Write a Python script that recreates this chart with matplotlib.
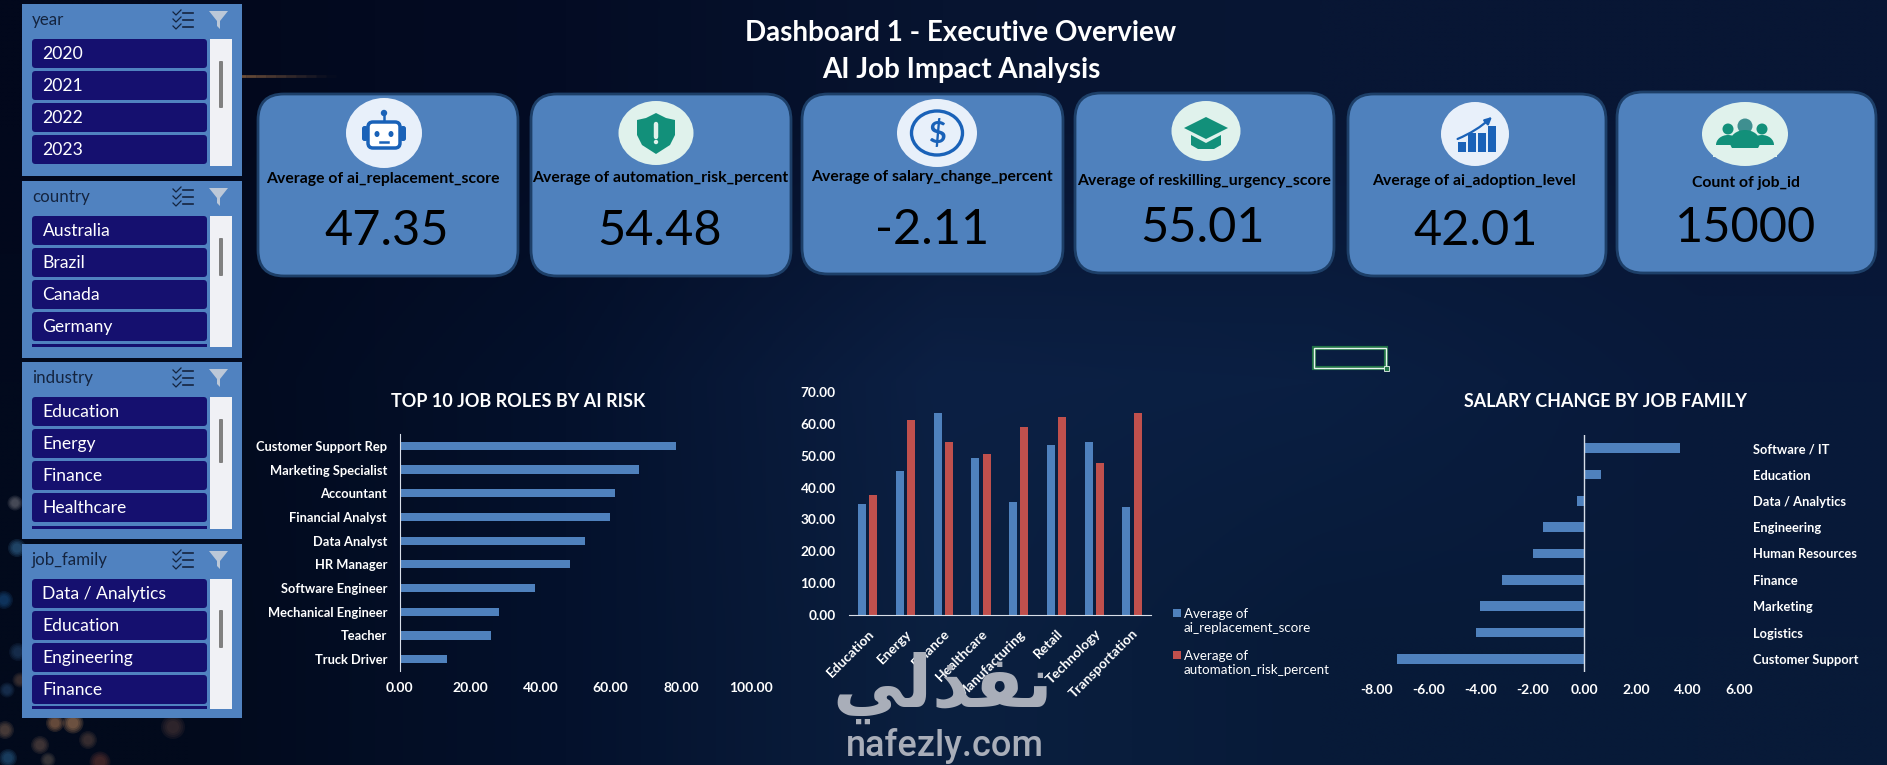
import numpy as np
import matplotlib
matplotlib.use('Agg')
import matplotlib.pyplot as plt
from matplotlib.colors import to_rgb
from matplotlib.patches import FancyBboxPatch, Rectangle, Ellipse, Circle, Polygon

plt.rcParams['font.family'] = ['Lato', 'DejaVu Sans']

W, H = 1887, 765

# slicers
slicer_names = ['year', 'country', 'industry', 'job_family']
slicer_items = [
    ['2020', '2021', '2022', '2023'],
    ['Australia', 'Brazil', 'Canada', 'Germany'],
    ['Education', 'Energy', 'Finance', 'Healthcare'],
    ['Data / Analytics', 'Education', 'Engineering', 'Finance'],
]

# kpi cards
kpi_labels = ['Average of ai_replacement_score', 'Average of automation_risk_percent',
              'Average of salary_change_percent', 'Average of reskilling_urgency_score',
              'Average of ai_adoption_level', 'Count of job_id']
kpi_values = ['47.35', '54.48', '-2.11', '55.01', '42.01', '15000']

# top 10 roles
roles = ['Customer Support Rep', 'Marketing Specialist', 'Accountant', 'Financial Analyst',
         'Data Analyst', 'HR Manager', 'Software Engineer', 'Mechanical Engineer',
         'Teacher', 'Truck Driver']
role_risk = [78.6, 68.0, 61.2, 59.8, 52.7, 48.4, 38.5, 28.2, 26.0, 13.5]

# industry chart
industries = ['Education', 'Energy', 'Finance', 'Healthcare', 'Manufacturing',
              'Retail', 'Technology', 'Transportation']
ai_replacement = [34.9, 45.3, 63.5, 49.4, 35.5, 53.5, 54.4, 34.0]
automation_risk = [37.7, 61.3, 54.4, 50.6, 59.1, 62.0, 47.7, 63.5]

# salary chart
families = ['Software / IT', 'Education', 'Data / Analytics', 'Engineering', 'Human Resources',
            'Finance', 'Marketing', 'Logistics', 'Customer Support']
salary_change = [3.71, 0.65, -0.27, -1.60, -1.97, -3.18, -4.03, -4.18, -7.23]

BLUE = '#4f81bd'
RED = '#c0504d'
NAVY = '#15106f'


def px_axes(x0, y0, x1, y1, z=2):
    a = fig.add_axes([x0 / W, 1 - y1 / H, (x1 - x0) / W, (y1 - y0) / H], zorder=z)
    a.patch.set_alpha(0)
    for s in a.spines.values():
        s.set_visible(False)
    return a


def rbox(a, x0, y0, x1, y1, r, fc, ec='none', lw=0, z=2):
    a.add_patch(FancyBboxPatch((x0, y0), x1 - x0, y1 - y0, boxstyle='round,pad=0,rounding_size=%s' % r,
                               fc=fc, ec=ec, lw=lw, zorder=z))


fig = plt.figure(figsize=(W / 100, H / 100), dpi=100)
bg = px_axes(0, 0, W, H, z=0)
bg.set_xlim(0, W)
bg.set_ylim(H, 0)
bg.axis('off')

# background colour grid
grid_hex = [['#02081c', '#040c24', '#071430', '#081634', '#081634'],
            ['#020a1e', '#04112c', '#0c2044', '#0a1f42', '#08193a'],
            ['#020a1c', '#04112c', '#0b2040', '#071a38', '#081a38']]
grid = np.array([[to_rgb(c) for c in row] for row in grid_hex])
bg.imshow(grid, extent=(0, W, H, 0), aspect='auto', interpolation='bilinear', zorder=0)
bg.set_xlim(0, W)
bg.set_ylim(H, 0)

# blurred lights behind the slicers
lights = [(55, 723, 6, '#c98a5a'), (73, 723, 7, '#d89a66'), (5, 730, 6, '#8a6a55'), (17, 548, 6, '#3f7fb0'),
          (4, 600, 6, '#1c5c9a'), (8, 758, 6, '#2f6f9f'), (40, 745, 6, '#7a5f50'), (88, 740, 6, '#6a4f45'),
          (173, 727, 8, '#5a3f3c'), (100, 762, 7, '#7a3f35'), (48, 760, 5, '#6a5f55'), (15, 503, 5, '#8a8a90'),
          (18, 652, 6, '#2c4f7a'), (7, 690, 5, '#2c4f7a'), (20, 680, 5, '#6a5045')]
for lx, ly, lr, lc in lights:
    for k in (1.5, 1.25, 1.0, 0.75):
        bg.add_patch(Circle((lx, ly), lr * k, fc=lc, ec='none', alpha=0.16, zorder=1))
for i, sx in enumerate(range(226, 336, 10)):
    bg.plot([sx, sx + 10], [76, 76], color='#c98a50', lw=2, alpha=max(0.6 - i * 0.06, 0.02), zorder=1,
            solid_capstyle='butt')

# slicer panels
panel_tops = [4, 181, 362, 544]
panel_bottoms = [176, 358, 539, 718]
scroll_bottoms = [166, 347, 529, 709]
thumb_tops = [61, 238, 419, 610]
thumb_bottoms = [108, 276, 463, 648]
for n in range(4):
    top = panel_tops[n]
    bg.add_patch(Rectangle((22, top), 220, panel_bottoms[n] - top, fc='#5082c0', ec='none', zorder=2))
    bg.text(32, top + 16, slicer_names[n], color='#14243f', fontsize=12.2, va='center', zorder=3)
    # multi select icon
    for r in range(3):
        ry = top + 9 + r * 7
        bg.plot([173, 176, 181], [ry - 1, ry + 2, ry - 3], color='#14243f', lw=0.9, zorder=3)
        bg.plot([183, 193], [ry, ry], color='#14243f', lw=1.2, zorder=3)
    # funnel icon
    bg.add_patch(Polygon([(209, top + 7), (228, top + 7), (220, top + 17), (220, top + 25), (217, top + 22),
                          (217, top + 17)], fc='#bcc8d8', ec='none', zorder=3))
    for k, item in enumerate(slicer_items[n]):
        iy = top + 35 + k * 32
        rbox(bg, 32, iy, 207, iy + 29, 3.5, NAVY, z=3)
        bg.text(42.5, iy + 15, item, color='white', fontsize=12.6, va='center', zorder=4)
    if n > 0:
        bg.add_patch(Rectangle((32, scroll_bottoms[n] - 3), 175, 3, fc=NAVY, ec='none', zorder=3))
    bg.add_patch(Rectangle((210, top + 35), 22, scroll_bottoms[n] - top - 35, fc='#f0f1f5', ec='none', zorder=3))
    rbox(bg, 219, thumb_tops[n], 223, thumb_bottoms[n], 1, '#808080', z=4)

# kpi cards
card_x0 = [258, 531, 802, 1075, 1348, 1617]
card_x1 = [518, 791, 1063, 1334, 1606, 1876]
card_y0 = [94, 94, 94, 93, 94, 92]
card_y1 = [276, 276, 274, 273, 276, 273]
icon_cx = [384, 656, 937, 1206, 1475, 1745]
icon_cy = [133, 133, 133, 131, 134, 134]
icon_rx = [38, 37.5, 40, 34.5, 34, 43]
icon_ry = [35, 32, 34, 30, 32, 32]
icon_fc = ['#e8f0fa', '#e0f2ec', '#e8f0fa', '#e0f2ec', '#e8f0fa', '#e0f2ec']
label_x = [383, 660, 932, 1204, 1474, 1746]
label_y = [179, 178, 177, 181, 181, 183]
value_x = [387, 660, 932, 1203, 1476, 1746]
value_y = [231, 231, 230, 228, 231, 228]
ICON_BLUE = '#1a62b8'
TEAL = '#12907a'

for n in range(6):
    rbox(bg, card_x0[n], card_y0[n], card_x1[n], card_y1[n], 26, BLUE, ec='#1d3f68', lw=2, z=2)
    bg.add_patch(Ellipse((icon_cx[n], icon_cy[n]), icon_rx[n] * 2, icon_ry[n] * 2, fc=icon_fc[n], ec='none', zorder=3))
    bg.text(label_x[n], label_y[n], kpi_labels[n], color='black', fontsize=11.3, fontweight='bold',
            ha='center', va='center', zorder=4)
    bg.text(value_x[n], value_y[n], kpi_values[n], color='black', fontsize=35, ha='center', va='center', zorder=4)

# robot
cx, cy = icon_cx[0], icon_cy[0]
bg.plot([cx, cx], [cy - 20, cy - 12], color=ICON_BLUE, lw=1.8, zorder=4)
bg.add_patch(Circle((cx, cy - 20), 3.2, fc=ICON_BLUE, ec='none', zorder=4))
rbox(bg, cx - 22, cy - 7, cx - 16, cy + 8, 2.5, ICON_BLUE, z=4)
rbox(bg, cx + 16, cy - 7, cx + 22, cy + 8, 2.5, ICON_BLUE, z=4)
rbox(bg, cx - 16, cy - 11, cx + 16, cy + 15, 5, 'white', ec=ICON_BLUE, lw=2.5, z=5)
bg.add_patch(Ellipse((cx - 7, cy + 1), 5, 6, fc=ICON_BLUE, ec='none', zorder=6))
bg.add_patch(Ellipse((cx + 7, cy + 1), 5, 6, fc=ICON_BLUE, ec='none', zorder=6))
bg.plot([cx - 4, cx + 4], [cy + 9, cy + 9], color=ICON_BLUE, lw=1.8, zorder=6)

# shield
cx, cy = icon_cx[1], icon_cy[1]
bg.add_patch(Polygon([(cx, cy - 20), (cx + 10, cy - 15), (cx + 19, cy - 13), (cx + 19, cy + 2), (cx + 14, cy + 12),
                      (cx, cy + 21), (cx - 14, cy + 12), (cx - 19, cy + 2), (cx - 19, cy - 13), (cx - 10, cy - 15)],
                     fc=TEAL, ec='none', zorder=4))
bg.plot([cx, cx], [cy - 9, cy + 4], color='#e0f2ec', lw=3.2, zorder=5, solid_capstyle='round')
bg.add_patch(Circle((cx, cy + 9), 2.2, fc='#e0f2ec', ec='none', zorder=5))

# dollar coin
cx, cy = icon_cx[2], icon_cy[2]
bg.add_patch(Ellipse((cx, cy), 51, 44, fc='none', ec=ICON_BLUE, lw=2.4, zorder=4))
bg.text(cx, cy, '$', color=ICON_BLUE, fontsize=22, fontweight='bold', ha='center', va='center', zorder=5)

# graduation cap
cx, cy = icon_cx[3], icon_cy[3]
bg.add_patch(Polygon([(cx - 15, cy + 4), (cx - 15, cy + 14), (cx - 8, cy + 18), (cx + 8, cy + 18), (cx + 15, cy + 14),
                      (cx + 15, cy + 4), (cx, cy + 12)], fc=TEAL, ec='none', zorder=4))
bg.add_patch(Polygon([(cx - 22, cy - 3), (cx, cy - 14), (cx + 22, cy - 3), (cx, cy + 8)], fc=TEAL, ec='none', zorder=5))

# growth chart
cx, cy = icon_cx[4], icon_cy[4]
for off, bh in zip((-17, -7, 3, 13), (10, 19, 19, 26)):
    bg.add_patch(Rectangle((cx + off, cy + 18 - bh), 8, bh, fc=ICON_BLUE, ec='none', zorder=4))
bg.annotate('', xy=(cx + 19, cy - 19), xytext=(cx - 20, cy + 6), zorder=5,
            arrowprops=dict(arrowstyle='-|>', color=ICON_BLUE, lw=1.6, connectionstyle='arc3,rad=0.1'))

# people
cx, cy = icon_cx[5], icon_cy[5]
for off, rad in ((-17, 5.5), (17, 5.5)):
    bg.add_patch(Circle((cx + off, cy - 5), rad, fc=TEAL, ec='none', zorder=4))
    bg.add_patch(Ellipse((cx + off, cy + 11), 24, 20, fc=TEAL, ec='none', zorder=4))
bg.add_patch(Rectangle((cx - 32, cy + 11), 64, 12, fc=icon_fc[5], ec='none', zorder=4))
bg.add_patch(Circle((cx, cy - 8), 7.5, fc='#3f8f90', ec='none', zorder=5))
bg.add_patch(Ellipse((cx, cy + 8), 30, 24, fc=TEAL, ec='none', zorder=5))
bg.add_patch(Rectangle((cx - 20, cy + 14), 40, 10, fc=icon_fc[5], ec='none', zorder=5))

# main title
bg.text(961, 33, 'Dashboard 1 - Executive Overview', color='white', fontsize=20, fontweight='bold',
        ha='center', va='center', zorder=4)
bg.text(961, 70, 'AI Job Impact Analysis', color='white', fontsize=20, fontweight='bold',
        ha='center', va='center', zorder=4)

# selected cell
bg.add_patch(Rectangle((1314, 348), 72, 20, fc='none', ec='#217346', lw=3, zorder=2))
bg.add_patch(Rectangle((1314, 348), 72, 20, fc='none', ec='#e8f4ee', lw=1, zorder=3))
bg.add_patch(Rectangle((1384, 366), 5, 5, fc='#217346', ec='#e8f4ee', lw=0.6, zorder=4))

# chart 1
ax1 = px_axes(399.6, 434, 751.4, 671)
ax1.barh(roles, role_risk, height=0.35, color=BLUE)
ax1.set_xlim(0, 100)
ax1.set_ylim(len(roles) - 0.5, -0.5)
ax1.set_xticks(range(0, 101, 20))
ax1.set_xticklabels(['%.2f' % v for v in range(0, 101, 20)])
ax1.spines['left'].set_visible(True)
ax1.spines['left'].set_color('#d8dee8')
ax1.tick_params(axis='both', length=0, colors='white', labelsize=10)
ax1.tick_params(axis='y', pad=9, labelsize=9.3)
ax1.tick_params(axis='x', pad=8)
for t in ax1.get_xticklabels() + ax1.get_yticklabels():
    t.set_fontweight('bold')
bg.text(518.6, 401.5, 'TOP 10 JOB ROLES BY AI RISK', color='white', fontsize=13, fontweight='bold',
        ha='center', va='center', zorder=4)

# chart 2
ax2 = px_axes(848.8, 392, 1151, 615)
pos = np.arange(len(industries))
ax2.bar(pos - 0.15, ai_replacement, width=0.21, color=BLUE)
ax2.bar(pos + 0.15, automation_risk, width=0.21, color=RED)
ax2.set_xlim(-0.5, len(industries) - 0.5)
ax2.set_ylim(0, 70)
ax2.set_yticks(range(0, 71, 10))
ax2.set_yticklabels(['%.2f' % v for v in range(0, 71, 10)])
ax2.set_xticks(pos)
ax2.set_xticklabels(industries, rotation=45, ha='right', rotation_mode='anchor')
ax2.spines['bottom'].set_visible(True)
ax2.spines['bottom'].set_color('#d8dee8')
ax2.tick_params(axis='both', length=0, colors='white', labelsize=9.8)
ax2.tick_params(axis='y', pad=9.5)
ax2.tick_params(axis='x', pad=9)
for t in ax2.get_xticklabels() + ax2.get_yticklabels():
    t.set_fontweight('bold')

# chart 2 legend
bg.add_patch(Rectangle((1173, 609), 8, 8, fc=BLUE, ec='none', zorder=3))
bg.add_patch(Rectangle((1173, 651), 8, 8, fc=RED, ec='none', zorder=3))
bg.text(1184, 621, 'Average of\nai_replacement_score', color='white', fontsize=9.6, va='center', linespacing=1.3, zorder=4)
bg.text(1184, 663, 'Average of\nautomation_risk_percent', color='white', fontsize=9.6, va='center', linespacing=1.3, zorder=4)

# chart 3
ax3 = px_axes(1377, 435, 1739.6, 672)
ax3.barh(families, salary_change, height=0.36, color=BLUE)
ax3.set_xlim(-8, 6)
ax3.set_ylim(len(families) - 0.5, -0.5)
ax3.set_xticks(range(-8, 7, 2))
ax3.set_xticklabels(['%.2f' % v for v in range(-8, 7, 2)])
ax3.axvline(0, color='#d8dee8', lw=1)
ax3.yaxis.tick_right()
ax3.tick_params(axis='both', length=0, colors='white', labelsize=10)
ax3.tick_params(axis='y', pad=9.4, labelsize=9.3)
ax3.tick_params(axis='x', pad=9)
for t in ax3.get_xticklabels() + ax3.get_yticklabels():
    t.set_fontweight('bold')
bg.text(1605, 401.5, 'SALARY CHANGE BY JOB FAMILY', color='white', fontsize=12.9, fontweight='bold',
        ha='center', va='center', zorder=4)

# watermark on top of everything
top = px_axes(0, 0, W, H, z=6)
top.set_xlim(0, W)
top.set_ylim(H, 0)
top.axis('off')
top.text(943, 688, '\ufef2\ufedf\ufeac\ufed4\ufee7', color='#a9aeb9', fontsize=52, fontweight='bold',
         family=['DejaVu Sans'], ha='center', va='center')
top.text(945, 746, 'nafezly.com', color='#a9aeb9', fontsize=26, fontweight='medium', family=['Roboto'],
         ha='center', va='center')

fig.savefig('out.png', dpi=100)
